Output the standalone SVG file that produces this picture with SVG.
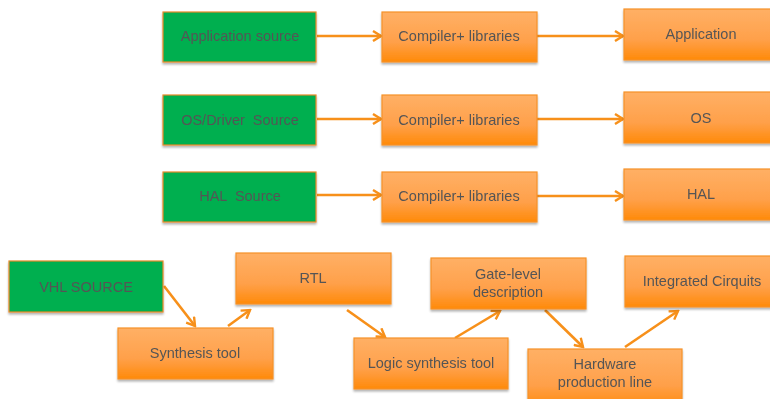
<svg xmlns="http://www.w3.org/2000/svg" width="770" height="399" viewBox="0 0 770 399">
<defs>
<linearGradient id="og" x1="0" y1="0" x2="0" y2="1">
<stop offset="0" stop-color="#ffb065"/>
<stop offset="0.6" stop-color="#ffa04a"/>
<stop offset="1" stop-color="#ff8a08"/>
</linearGradient>
<filter id="sh" x="-5%" y="-5%" width="115%" height="125%">
<feGaussianBlur in="SourceAlpha" stdDeviation="1.2"/>
<feOffset dx="0" dy="2" result="b"/>
<feComponentTransfer><feFuncA type="linear" slope="0.3"/></feComponentTransfer>
<feMerge><feMergeNode/><feMergeNode in="SourceGraphic"/></feMerge>
</filter>
<marker id="ah" viewBox="0 0 12 12" refX="10" refY="6" markerWidth="12" markerHeight="12" markerUnits="userSpaceOnUse" orient="auto">
<path d="M2,1 L10,6 L2,11" fill="none" stroke="#f7901a" stroke-width="2.4" stroke-linejoin="miter"/>
</marker>
</defs>
<style>
.g{fill:#00af50;stroke:#e8892a;stroke-width:1.2}
.o{fill:url(#og);stroke:#f5922a;stroke-width:1.2}
text{font-family:"Liberation Sans",Arial,sans-serif;font-size:14.5px;fill:#555555;text-anchor:middle;dominant-baseline:central;white-space:pre}
.c line{stroke:#f7901a;stroke-width:2.6;marker-end:url(#ah)}
</style>
<g class="c">
<line x1="317" y1="36" x2="381" y2="36"/>
<line x1="537" y1="36" x2="623" y2="36"/>
<line x1="317" y1="119" x2="381" y2="119"/>
<line x1="537" y1="119" x2="623" y2="119"/>
<line x1="317" y1="195" x2="381" y2="195"/>
<line x1="537" y1="196" x2="623" y2="196"/>
<line x1="164" y1="286" x2="195" y2="326"/>
<line x1="228" y1="326" x2="250" y2="310"/>
<line x1="347" y1="310" x2="385" y2="337"/>
<line x1="455" y1="338" x2="500" y2="311"/>
<line x1="545" y1="310" x2="583" y2="347"/>
<line x1="625" y1="347" x2="678" y2="311"/>
</g>
<g id="app-src" filter="url(#sh)"><rect class="g" x="163" y="12" width="153" height="50"/><text x="240" y="36">Application source</text></g>
<g id="comp1" filter="url(#sh)"><rect class="o" x="382" y="12" width="155" height="50"/><text x="459" y="36">Compiler+ libraries</text></g>
<g id="app" filter="url(#sh)"><rect class="o" x="624" y="9" width="156" height="51"/><text x="701" y="34">Application</text></g>
<g id="os-src" filter="url(#sh)"><rect class="g" x="163" y="95" width="153" height="50"/><text x="240" y="120" xml:space="preserve">OS/Driver  Source</text></g>
<g id="comp2" filter="url(#sh)"><rect class="o" x="382" y="95" width="155" height="50"/><text x="459" y="120">Compiler+ libraries</text></g>
<g id="os" filter="url(#sh)"><rect class="o" x="624" y="92" width="156" height="51"/><text x="701" y="118">OS</text></g>
<g id="hal-src" filter="url(#sh)"><rect class="g" x="163" y="172" width="153" height="50"/><text x="240" y="196" xml:space="preserve">HAL  Source</text></g>
<g id="comp3" filter="url(#sh)"><rect class="o" x="382" y="172" width="155" height="50"/><text x="459" y="196">Compiler+ libraries</text></g>
<g id="hal" filter="url(#sh)"><rect class="o" x="624" y="169" width="156" height="51"/><text x="701" y="194">HAL</text></g>
<g id="vhl" filter="url(#sh)"><rect class="g" x="9" y="261" width="154" height="51"/><text x="86" y="287">VHL SOURCE</text></g>
<g id="rtl" filter="url(#sh)"><rect class="o" x="236" y="253" width="155" height="51"/><text x="313" y="278">RTL</text></g>
<g id="synth" filter="url(#sh)"><rect class="o" x="118" y="328" width="155" height="51"/><text x="195" y="353">Synthesis tool</text></g>
<g id="logic" filter="url(#sh)"><rect class="o" x="354" y="338" width="154" height="51"/><text x="431" y="363">Logic synthesis tool</text></g>
<g id="gate" filter="url(#sh)"><rect class="o" x="431" y="258" width="155" height="51"/><text x="508" y="274">Gate-level</text><text x="508" y="292">description</text></g>
<g id="hw" filter="url(#sh)"><rect class="o" x="528" y="349" width="154" height="60"/><text x="605" y="364">Hardware</text><text x="605" y="382">production line</text></g>
<g id="ic" filter="url(#sh)"><rect class="o" x="625" y="256" width="156" height="51"/><text x="702" y="281">Integrated Cirquits</text></g>
</svg>
